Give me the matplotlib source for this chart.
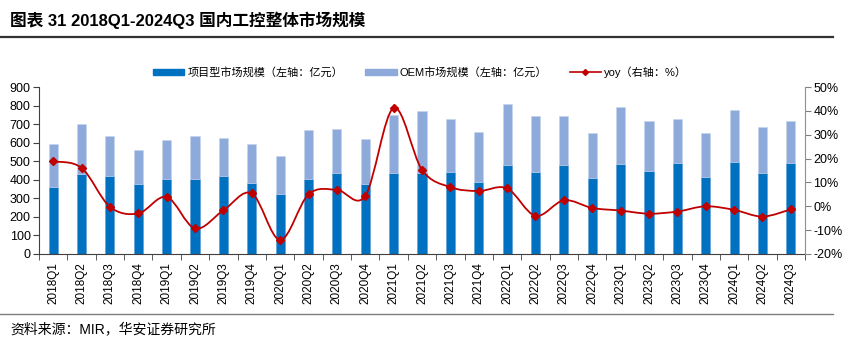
import matplotlib
matplotlib.use("Agg")

import numpy as np
import matplotlib.pyplot as plt
from matplotlib.path import Path
from matplotlib.patches import PathPatch
from matplotlib.lines import Line2D
from matplotlib.patches import Patch

plt.rcParams["font.family"] = ["Liberation Sans", "Noto Sans CJK SC", "DejaVu Sans"]

# 数据（从图中读取，单位：亿元 / %）
quarters = ["2018Q1", "2018Q2", "2018Q3", "2018Q4", "2019Q1", "2019Q2", "2019Q3",
            "2019Q4", "2020Q1", "2020Q2", "2020Q3", "2020Q4", "2021Q1", "2021Q2",
            "2021Q3", "2021Q4", "2022Q1", "2022Q2", "2022Q3", "2022Q4", "2023Q1",
            "2023Q2", "2023Q3", "2023Q4", "2024Q1", "2024Q2", "2024Q3"]
total_size = [592, 699, 637, 559, 615, 635, 626, 592, 529, 669, 671, 619, 751, 771,
              726, 658, 807, 742, 746, 654, 791, 719, 728, 654, 778, 687, 717]
project_size = [359, 430, 423, 377, 402, 405, 420, 382, 323, 403, 436, 375, 436, 436,
                443, 387, 479, 441, 479, 411, 484, 448, 488, 416, 495, 436, 488]
yoy = [18.8, 16.1, -0.2, -3.0, 3.9, -9.3, -1.7, 5.4, -14.1, 5.0, 6.9, 4.4, 41.2, 15.3,
       8.0, 6.4, 7.5, -4.0, 2.5, -0.7, -1.8, -3.1, -2.2, 0.0, -1.5, -4.3, -1.3]

oem_size = [t - p for t, p in zip(total_size, project_size)]

c_proj = "#0070C0"
c_oem = "#8EAADB"
c_line = "#C00000"

fig = plt.figure(figsize=(8.56, 3.41), dpi=100)
ax = fig.add_axes([39 / 856, 1 - 254 / 341, 766 / 856, 167 / 341])
ax2 = ax.twinx()

x = np.arange(len(quarters))
w = 0.32
ax.bar(x, project_size, width=w, color=c_proj, edgecolor="#5B9BD5", linewidth=0.4, zorder=2)
ax.bar(x, oem_size, width=w, bottom=project_size, color=c_oem, edgecolor="#C5D5EE",
       linewidth=0.4, zorder=2)

# 平滑曲线（Catmull-Rom 转三次贝塞尔）
y = np.array(yoy, dtype=float)
verts = [(x[0], y[0])]
codes = [Path.MOVETO]
n = len(x)
for i in range(n - 1):
    p0 = (x[max(i - 1, 0)], y[max(i - 1, 0)])
    p1 = (x[i], y[i])
    p2 = (x[i + 1], y[i + 1])
    p3 = (x[min(i + 2, n - 1)], y[min(i + 2, n - 1)])
    c1 = (p1[0] + (p2[0] - p0[0]) / 6, p1[1] + (p2[1] - p0[1]) / 6)
    c2 = (p2[0] - (p3[0] - p1[0]) / 6, p2[1] - (p3[1] - p1[1]) / 6)
    verts += [c1, c2, p2]
    codes += [Path.CURVE4] * 3
ax2.add_patch(PathPatch(Path(verts, codes), facecolor="none", edgecolor=c_line,
                        linewidth=1.3, zorder=3))
ax2.plot(x, y, linestyle="none", marker="D", markersize=4, color=c_line, zorder=4)

ax.set_xlim(-0.5, len(quarters) - 0.5)
ax.set_ylim(0, 900)
ax.set_yticks(range(0, 901, 100))
ax2.set_ylim(-20, 50)
ax2.set_yticks(range(-20, 51, 10))
ax2.set_yticklabels([f"{v}%" for v in range(-20, 51, 10)])

ax.set_xticks(x)
ax.set_xticklabels(quarters, rotation=90, fontsize=8.5)
ax.set_xticks(np.arange(-0.5, len(quarters), 1), minor=True)
ax.tick_params(axis="x", which="major", length=0, pad=6)
ax.tick_params(axis="x", which="minor", length=4, direction="out", color="#404040")
ax.tick_params(axis="y", labelsize=9, length=4, color="#404040", pad=2)
ax2.tick_params(axis="y", labelsize=9, length=4, color="#808080", pad=2)

for s in ["top"]:
    ax.spines[s].set_visible(False)
    ax2.spines[s].set_visible(False)
ax.spines["right"].set_visible(False)
ax2.spines["left"].set_visible(False)
ax.spines["left"].set_color("#404040")
ax.spines["bottom"].set_color("#404040")
ax2.spines["bottom"].set_visible(False)
ax2.spines["right"].set_color("#909090")

# 图例
handles = [Patch(color=c_proj), Patch(color=c_oem),
           Line2D([0], [0], color=c_line, marker="D", markersize=3, linewidth=1.2)]
labels = ["项目型市场规模（左轴：亿元）", "OEM市场规模（左轴：亿元）", "yoy（右轴：%）"]
fig.legend(handles, labels, loc="center", bbox_to_anchor=(420 / 856, 1 - 72 / 341),
           ncol=3, frameon=False, fontsize=8, handlelength=2.8, handleheight=0.5,
           columnspacing=2.0, handletextpad=0.3)

# 标题与来源
fig.text(10 / 856, 1 - 20 / 341, "图表 31 2018Q1-2024Q3 国内工控整体市场规模",
         fontsize=12, fontweight="bold", va="center", ha="left")
fig.add_artist(Line2D([0, 833 / 856], [1 - 37 / 341, 1 - 37 / 341], color="#333333",
                      linewidth=1.6))
fig.add_artist(Line2D([0, 833 / 856], [1 - 314 / 341, 1 - 314 / 341], color="#7F7F7F",
                      linewidth=1.0))
fig.text(10 / 856, 1 - 329 / 341, "资料来源：MIR，华安证券研究所", fontsize=10,
         va="center", ha="left")

fig.savefig("out.png", dpi=100)
